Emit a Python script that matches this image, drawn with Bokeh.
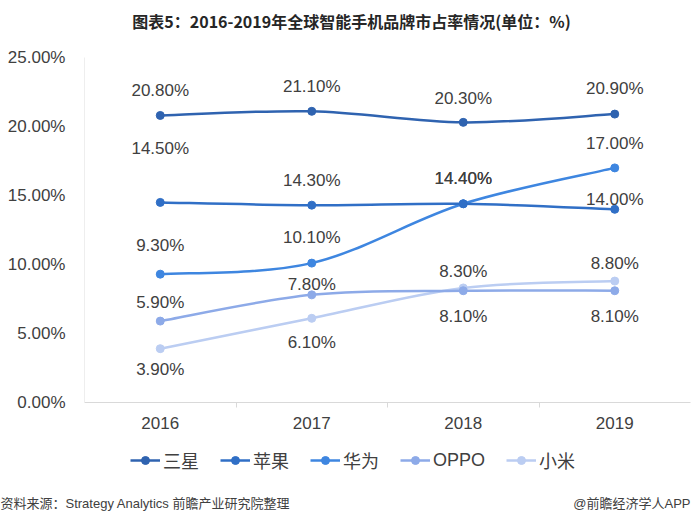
from bokeh.plotting import figure
from bokeh.layouts import column
from bokeh.models import (FixedTicker, PrintfTickFormatter, Range1d, Legend, LegendItem,
                          Label, ColumnDataSource)
from bokeh.core.properties import value
from bokeh.embed import file_html
from bokeh.resources import INLINE

# ---- data ----
years = ["2016", "2017", "2018", "2019"]
samsung = [20.8, 21.1, 20.3, 20.9]
apple = [14.5, 14.3, 14.4, 14.0]
huawei = [9.3, 10.1, 14.4, 17.0]
oppo = [5.9, 7.8, 8.1, 8.1]
xiaomi = [3.9, 6.1, 8.3, 8.8]
series_names = ["三星", "苹果", "华为", "OPPO", "小米"]
y_ticks = [0, 5, 10, 15, 20, 25]
title_text = "图表5：2016-2019年全球智能手机品牌市占率情况(单位：%)"
source_text = "资料来源：Strategy Analytics 前瞻产业研究院整理"
brand_text = "@前瞻经济学人APP"

# ---- styles ----
colors = ["#2F63B0", "#306FC6", "#3E86E0", "#8DAAE8", "#BBCDF2"]
label_offsets = [
    [-25, -25, -24, -26],
    [-54, -25, -25, -10],
    [-29, -26, -25, -24],
    [-19, -10, 26, 26],
    [21, 24, -16, -18],
]
FONT = "Liberation Sans, Noto Sans CJK SC, sans-serif"
TEXT_COLOR = "#404040"

W = 692
HEAD_H, MAIN_H, FOOT_H = 40, 400, 76


def no_frame_align(f):
    try:
        f.frame_align = False
    except Exception:
        pass


def blank_fig(h):
    f = figure(width=W, height=h, output_backend="svg", toolbar_location=None,
               x_range=Range1d(0, W), y_range=Range1d(0, h),
               x_axis_type=None, y_axis_type=None, min_border=0,
               min_border_left=0, min_border_right=0, min_border_top=0, min_border_bottom=0)
    f.outline_line_color = None
    f.grid.visible = False
    f.background_fill_color = "white"
    f.border_fill_color = "white"
    no_frame_align(f)
    return f


# ---- header ----
head = blank_fig(HEAD_H)
head.add_layout(Label(x=351, y=HEAD_H - 20, text=title_text,
                      text_font="Liberation Sans Narrow, Noto Sans CJK SC, sans-serif",
                      text_font_style="bold", text_font_size="16px", text_color="#262626",
                      text_align="center", text_baseline="middle"))

# ---- main chart ----
p = figure(width=W, height=MAIN_H, output_backend="svg", toolbar_location=None,
           x_range=Range1d(0, len(years)), y_range=Range1d(0, 25),
           min_border_left=84, min_border_right=2, min_border_top=17, min_border_bottom=38)
p.outline_line_color = None
p.grid.visible = False
p.background_fill_color = "white"
p.border_fill_color = "white"
no_frame_align(p)

xs = [i + 0.5 for i in range(len(years))]

xax = p.xaxis[0]
xax.ticker = FixedTicker(ticks=xs, minor_ticks=[i for i in range(1, len(years))])
xax.major_label_overrides = {x: y for x, y in zip(xs, years)}
xax.major_tick_line_color = None
xax.major_tick_out = 0
xax.major_tick_in = 0
xax.minor_tick_line_color = "#D9D9D9"
xax.minor_tick_out = 5
xax.minor_tick_in = 0
xax.axis_line_color = "#D9D9D9"
xax.major_label_text_font = FONT
xax.major_label_text_font_size = "17px"
xax.major_label_text_color = TEXT_COLOR
xax.major_label_standoff = 9

yax = p.yaxis[0]
yax.ticker = FixedTicker(ticks=y_ticks)
yax.formatter = PrintfTickFormatter(format="%.2f%%")
yax.major_tick_line_color = None
yax.minor_tick_line_color = None
yax.major_tick_out = 0
yax.axis_line_color = "#EEEEEE"
yax.major_label_text_font = FONT
yax.major_label_text_font_size = "17px"
yax.major_label_text_color = TEXT_COLOR
yax.major_label_standoff = 19


def smooth_segments(xv, yv):
    n = len(xv)
    pts = list(zip(xv, yv))
    out = dict(x0=[], y0=[], x1=[], y1=[], cx0=[], cy0=[], cx1=[], cy1=[])
    for i in range(n - 1):
        p0 = pts[i - 1] if i > 0 else pts[i]
        p1 = pts[i]
        p2 = pts[i + 1]
        p3 = pts[i + 2] if i + 2 < n else pts[i + 1]
        out["x0"].append(p1[0]); out["y0"].append(p1[1])
        out["x1"].append(p2[0]); out["y1"].append(p2[1])
        out["cx0"].append(p1[0] + (p2[0] - p0[0]) / 6)
        out["cy0"].append(p1[1] + (p2[1] - p0[1]) / 6)
        out["cx1"].append(p2[0] - (p3[0] - p1[0]) / 6)
        out["cy1"].append(p2[1] - (p3[1] - p1[1]) / 6)
    return out


all_series = [samsung, apple, huawei, oppo, xiaomi]
for k in list(range(len(all_series)))[::-1]:
    vals = all_series[k]
    c = colors[k]
    seg = smooth_segments(xs, vals)
    p.bezier(x0="x0", y0="y0", x1="x1", y1="y1", cx0="cx0", cy0="cy0", cx1="cx1", cy1="cy1",
             source=ColumnDataSource(seg), line_color=c, line_width=2.5)
    p.scatter(xs, vals, size=8, color=c)

for k in range(len(all_series)):
    vals = all_series[k]
    src = ColumnDataSource(dict(x=xs, y=vals, t=["%.2f%%" % v for v in vals],
                                off=label_offsets[k]))
    p.text(x="x", y="y", text="t", y_offset="off", source=src,
           text_font=value(FONT), text_font_size="17px", text_color=TEXT_COLOR,
           text_align="center", text_baseline="middle")

# ---- footer: legend + source ----
foot = blank_fig(FOOT_H)
items = []
for k, name in enumerate(series_names):
    c = colors[k]
    vals = all_series[k]
    ln = foot.line(x=xs, y=vals, line_color=c, line_width=2.5, visible=False)
    sc = foot.scatter(x=xs, y=vals, size=7, color=c, visible=False)
    items.append(LegendItem(label=name, renderers=[ln, sc]))
legend = Legend(items=items, orientation="horizontal", location=(130, FOOT_H - 23 - 10),
                glyph_width=30, glyph_height=20, label_standoff=3, spacing=21,
                padding=0, margin=0, label_text_font=FONT, label_text_font_size="18px",
                label_text_color=TEXT_COLOR, background_fill_alpha=0,
                border_line_color=None, label_height=20)
foot.add_layout(legend, "center")
foot.add_layout(Label(x=0, y=FOOT_H - 63, text=source_text,
                      text_font=FONT, text_font_size="13px", text_color=TEXT_COLOR,
                      text_align="left", text_baseline="middle"))
foot.add_layout(Label(x=W - 2, y=FOOT_H - 63, text=brand_text,
                      text_font=FONT, text_font_size="13px", text_color=TEXT_COLOR,
                      text_align="right", text_baseline="middle"))

layout = column(head, p, foot, spacing=0)
open("out.html", "w").write(file_html(layout, INLINE))
